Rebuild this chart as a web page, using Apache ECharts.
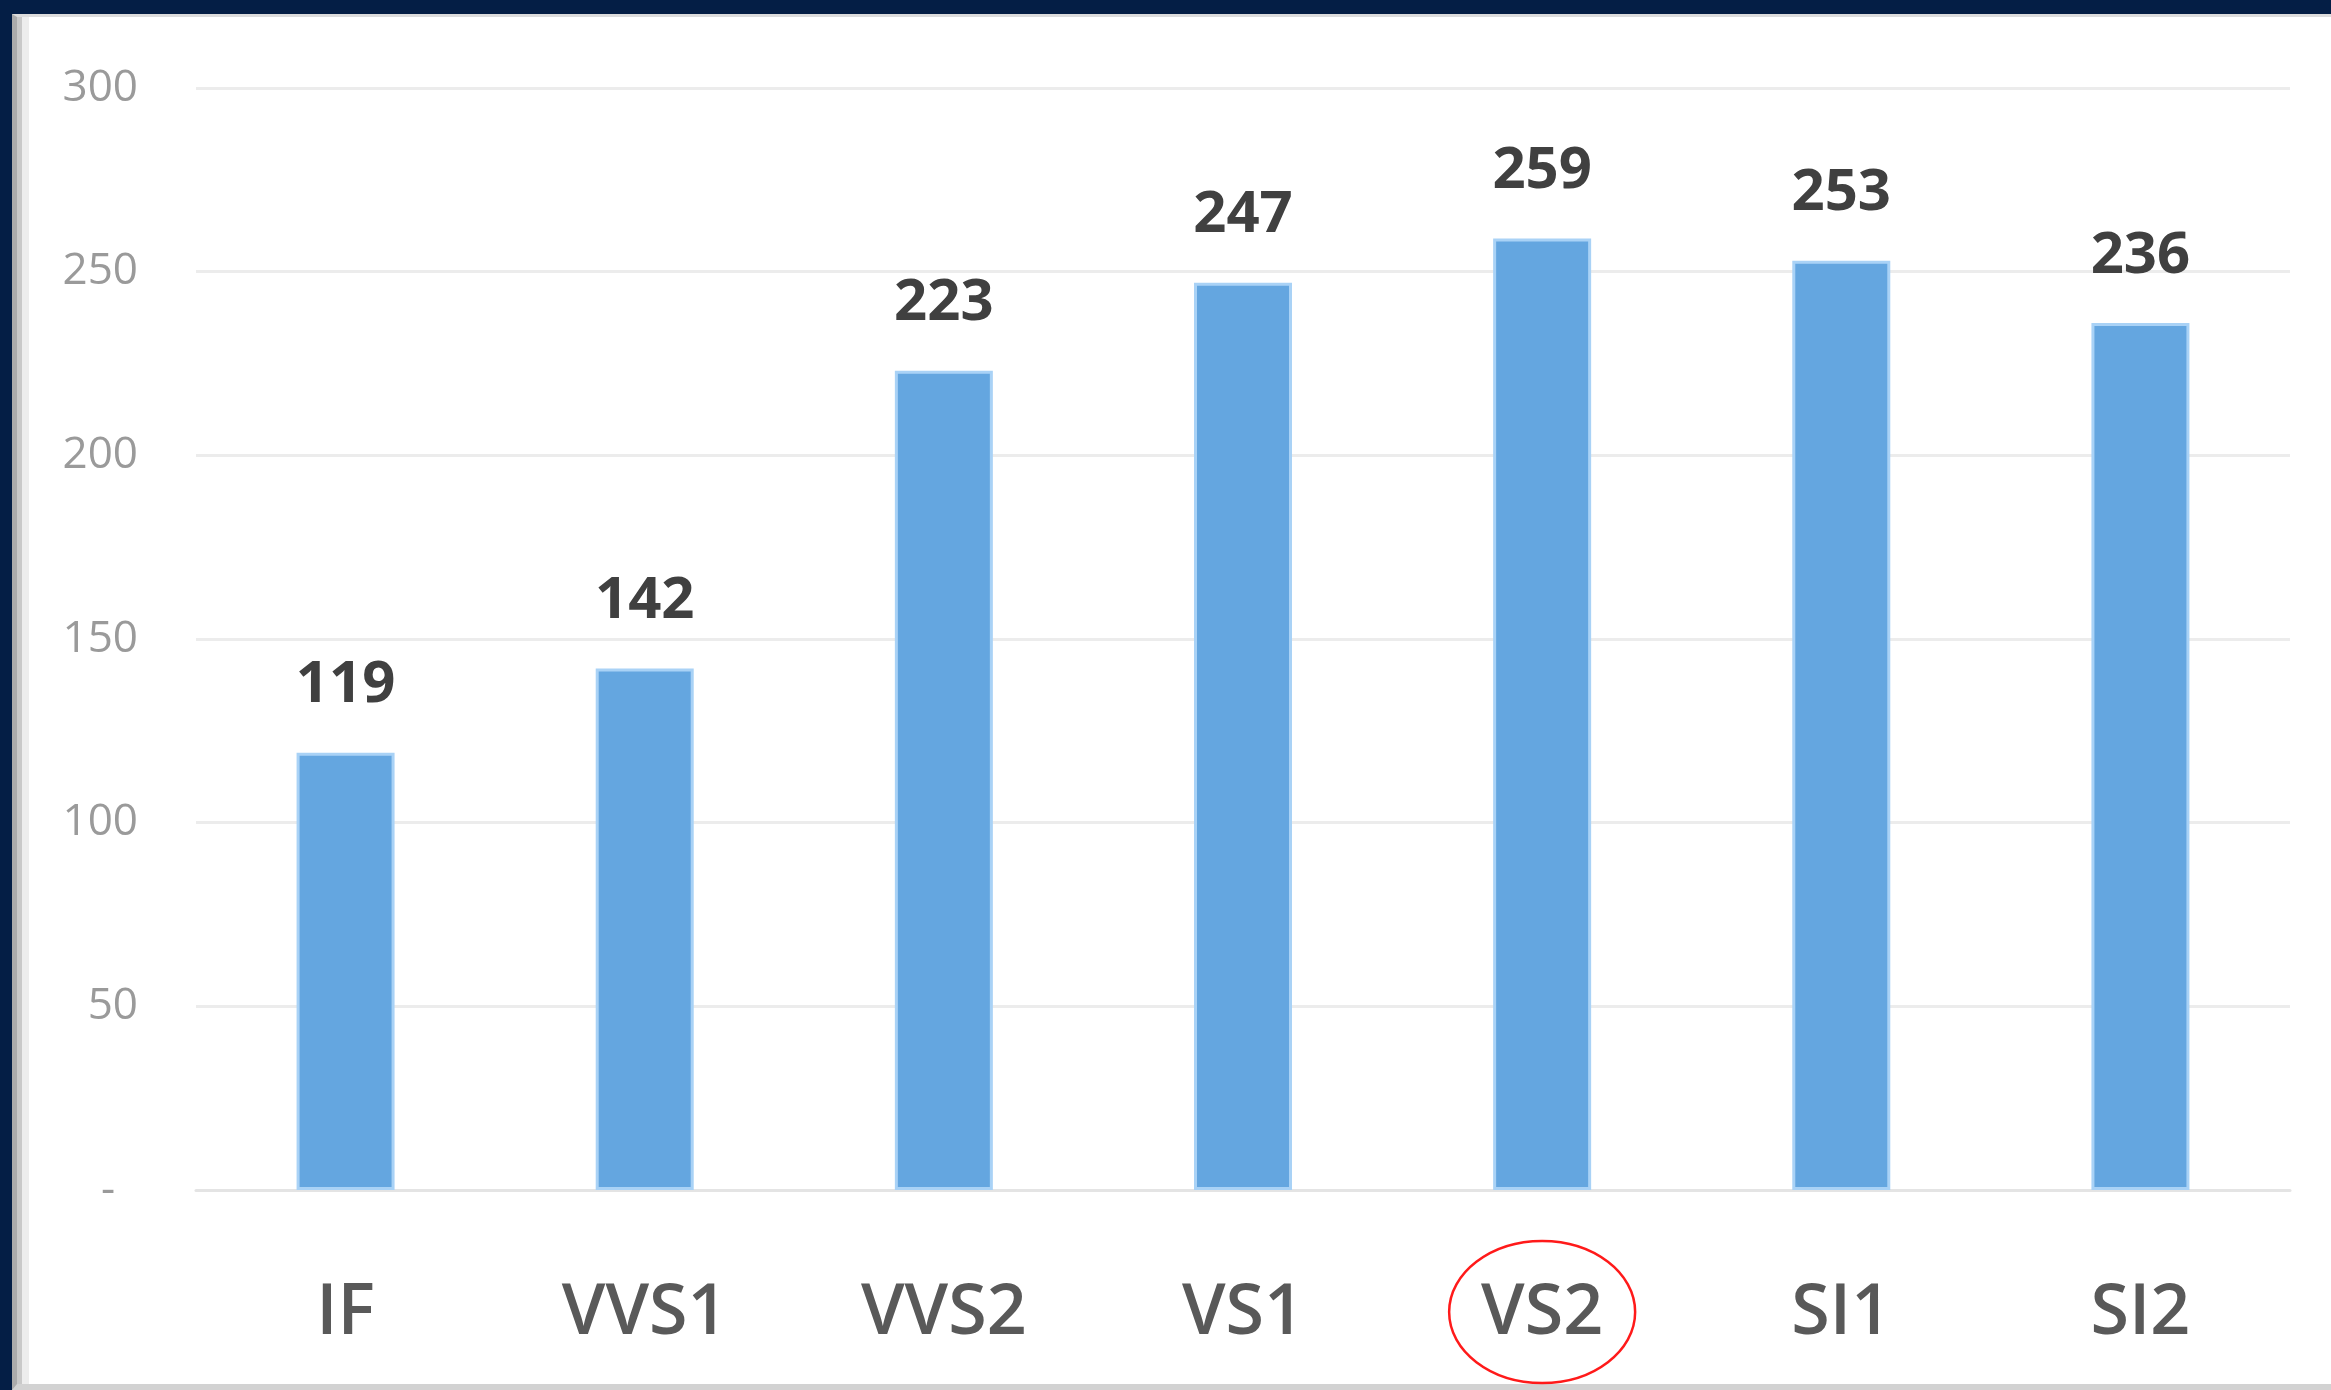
<!DOCTYPE html>
<html>
<head>
<meta charset="utf-8">
<script src="https://cdn.jsdelivr.net/npm/echarts@6/dist/echarts.min.js"></script>
<style>
  * { margin: 0; padding: 0; }
  html, body { width: 100%; height: 100%; background: #041e45; overflow: hidden; }
  .frame {
    position: absolute; left: 12px; top: 14px; right: 0; bottom: 0;
    background: #fff;
    border-top: 3px solid #dcdcdc;
    border-left: 5px solid #ababab;
    border-bottom: 6px solid #d2d2d2;
    box-shadow: inset 5px 0 0 #c9c9c9, inset 12px 0 0 #ededed;
  }
  #chart { position: absolute; left: 0; top: 0; width: 2331px; height: 1390px; }
</style>
</head>
<body>
<div class="frame"></div>
<div id="chart"></div>
<script>
var categories = ['IF', 'VVS1', 'VVS2', 'VS1', 'VS2', 'SI1', 'SI2']
var values = [119, 142, 223, 247, 259, 253, 236]
var yTicks = [0, 50, 100, 150, 200, 250, 300]
var circled = 'VS2'

var chart = echarts.init(document.getElementById('chart'))
var options = {
  animation: false,
  grid: {
    left: 196,
    right: 41,
    top: 88,
    bottom: 200
  },
  xAxis: {
    type: 'category',
    data: categories,
    axisLine: {
      lineStyle: { color: '#e4e4e4', width: 3 }
    },
    axisTick: { show: false },
    axisLabel: {
      color: '#595959',
      fontFamily: 'Open Sans',
      fontWeight: 600,
      fontSize: 70,
      margin: 89
    }
  },
  yAxis: {
    type: 'value',
    min: yTicks[0],
    max: yTicks[yTicks.length - 1],
    interval: 50,
    axisLine: { show: false },
    axisTick: { show: false },
    axisLabel: {
      color: '#9a9a9a',
      fontFamily: 'Open Sans',
      fontSize: 44,
      margin: 58,
      formatter: function(v) {
        return v === 0 ? '-  ' : String(v)
      }
    },
    splitLine: {
      lineStyle: { color: '#ececec', width: 3 }
    }
  },
  series: [
    {
      type: 'bar',
      data: values,
      barWidth: 98,
      itemStyle: {
        color: '#64a6e0',
        borderColor: '#a9d2f6',
        borderWidth: 3
      },
      label: {
        show: true,
        position: 'top',
        distance: 38,
        color: '#404040',
        fontFamily: 'Open Sans',
        fontWeight: 700,
        fontSize: 58
      }
    }
  ]
}
chart.setOption(options)

// red ellipse round the circled category label
var cx = chart.convertToPixel({ xAxisIndex: 0 }, circled)
var cy = chart.convertToPixel({ yAxisIndex: 0 }, 0)
chart.setOption({
  graphic: [
    {
      type: 'ellipse',
      shape: { cx: cx, cy: cy + 122, rx: 93, ry: 71 },
      style: { fill: null, stroke: '#ff1a1a', lineWidth: 2.5 },
      z: 100
    }
  ]
})
</script>
</body>
</html>
